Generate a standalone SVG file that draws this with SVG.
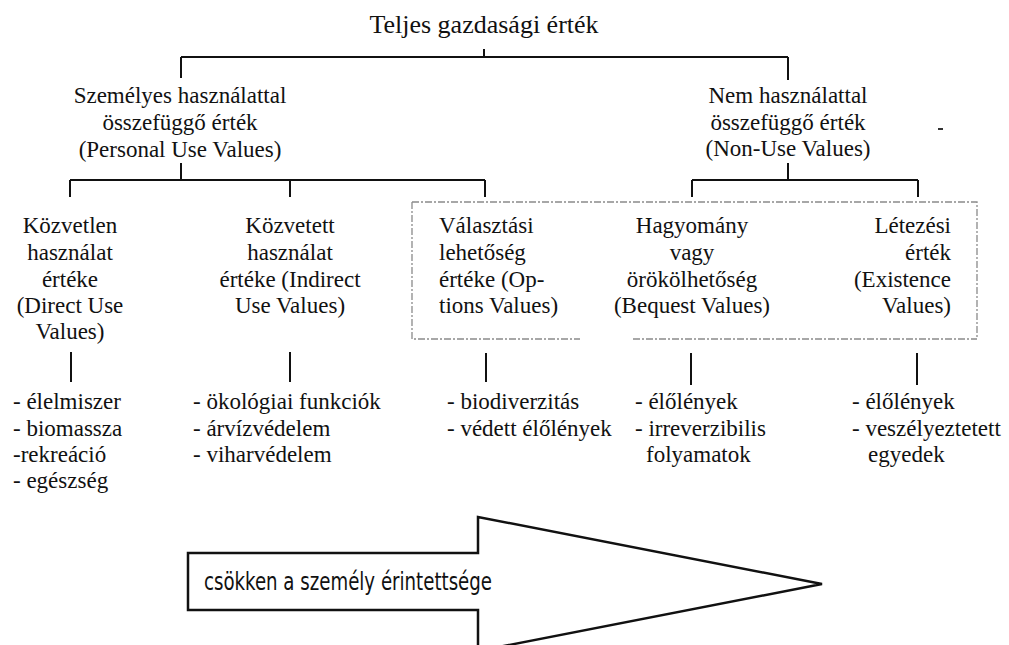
<svg xmlns="http://www.w3.org/2000/svg" width="1009" height="645" viewBox="0 0 1009 645">
<style>
.t{font-family:"Liberation Serif","Times New Roman",serif;font-size:23px;fill:#111}
.c{text-anchor:middle}
.r{text-anchor:end}
.title{font-size:26px}
.ln{stroke:#111;stroke-width:2;fill:none}
.dot{stroke:#8a8a8a;stroke-width:1.3;stroke-dasharray:7 2 2 2;fill:none}
.arw{font-family:"Liberation Sans Narrow","DejaVu Sans Condensed","Liberation Sans",sans-serif;font-size:25px;fill:#111}
</style>
<rect width="1009" height="645" fill="#fff"/>
<g id="connectors">
<path class="ln" d="M484 49V57M181 57H788M181 57V78M788 57V80"/>
<path class="ln" d="M181 163V180M70 180H485M70 180V197M290 180V197M485 180V197"/>
<path class="ln" d="M788 163V180M692 180H918M692 180V197M918 180V197"/>
<path class="ln" d="M71 352V382M290 352V382M486 353V382M691 353V385M917 353V385"/>
</g>
<g id="nonuse-box">
<path class="dot" d="M412 202H977V339M412 202V339H580M633 339H977"/>
</g>
<g id="total">
<text class="t c title" x="484" y="33">Teljes gazdasági érték</text>
</g>
<g id="personal-use">
<text class="t c" x="180" y="103">Személyes használattal</text>
<text class="t c" x="180" y="130">összefüggő érték</text>
<text class="t c" x="180" y="157">(Personal Use Values)</text>
</g>
<g id="non-use">
<text class="t c" x="788" y="103">Nem használattal</text>
<text class="t c" x="788" y="130">összefüggő érték</text>
<text class="t c" x="788" y="156">(Non-Use Values)</text>
</g>
<g id="direct">
<text class="t c" x="70" y="233">Közvetlen</text>
<text class="t c" x="70" y="260">használat</text>
<text class="t c" x="70" y="287">értéke</text>
<text class="t c" x="70" y="313">(Direct Use</text>
<text class="t c" x="70" y="339">Values)</text>
</g>
<g id="indirect">
<text class="t c" x="290" y="233">Közvetett</text>
<text class="t c" x="290" y="260">használat</text>
<text class="t c" x="290" y="287">értéke (Indirect</text>
<text class="t c" x="290" y="313">Use Values)</text>
</g>
<g id="option">
<text class="t" x="439" y="233">Választási</text>
<text class="t" x="439" y="260">lehetőség</text>
<text class="t" x="439" y="287">értéke (Op-</text>
<text class="t" x="439" y="313">tions Values)</text>
</g>
<g id="bequest">
<text class="t c" x="692" y="233">Hagyomány</text>
<text class="t c" x="692" y="260">vagy</text>
<text class="t c" x="692" y="287">örökölhetőség</text>
<text class="t c" x="692" y="313">(Bequest Values)</text>
</g>
<g id="existence">
<text class="t r" x="951" y="233">Létezési</text>
<text class="t r" x="951" y="260">érték</text>
<text class="t r" x="951" y="287">(Existence</text>
<text class="t r" x="951" y="313">Values)</text>
</g>
<g id="direct-list">
<text class="t" x="13" y="409">- élelmiszer</text>
<text class="t" x="13" y="436">- biomassza</text>
<text class="t" x="13" y="462">-rekreáció</text>
<text class="t" x="13" y="488">- egészség</text>
</g>
<g id="indirect-list">
<text class="t" x="193" y="409">- ökológiai funkciók</text>
<text class="t" x="193" y="436">- árvízvédelem</text>
<text class="t" x="193" y="462">- viharvédelem</text>
</g>
<g id="option-list">
<text class="t" x="447" y="409">- biodiverzitás</text>
<text class="t" x="447" y="436">- védett élőlények</text>
</g>
<g id="bequest-list">
<text class="t" x="635" y="409">- élőlények</text>
<text class="t" x="635" y="436">- irreverzibilis</text>
<text class="t" x="646" y="462">folyamatok</text>
</g>
<g id="existence-list">
<text class="t" x="852" y="409">- élőlények</text>
<text class="t" x="852" y="436">- veszélyeztetett</text>
<text class="t" x="868" y="462">egyedek</text>
</g>
<g id="arrow">
<polygon points="188,553 478,553 478,517 822,584 478,651 478,610 188,610" fill="#fff" stroke="#111" stroke-width="2.5" stroke-linejoin="miter"/>
<text class="arw" x="204" y="590" textLength="288" lengthAdjust="spacingAndGlyphs">csökken a személy érintettsége</text>
</g>
<path d="M938 129h5" stroke="#333" stroke-width="2"/>
</svg>
